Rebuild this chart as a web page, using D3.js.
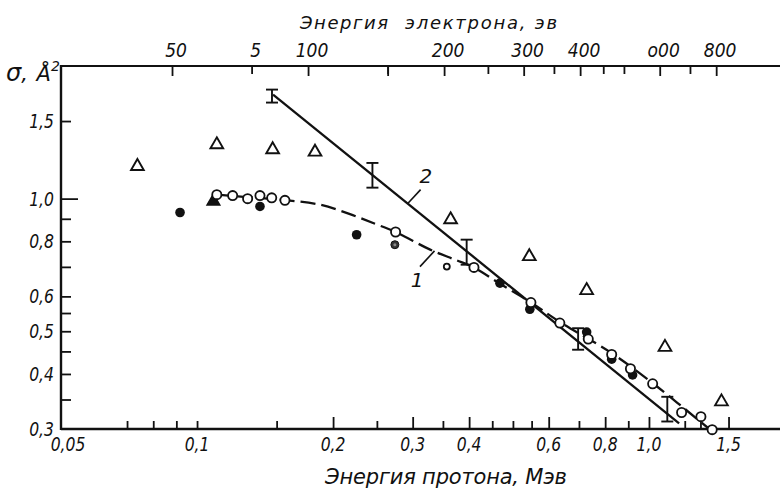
<!DOCTYPE html>
<html><head><meta charset="utf-8">
<script src="https://cdn.jsdelivr.net/npm/d3@7"></script>
<style>
body{margin:0;background:#fff;}
svg text{font-family:"DejaVu Sans","Liberation Sans",sans-serif;font-style:italic;fill:#111;}
</style></head>
<body><svg id="c" width="780" height="495"></svg>
<script>
// ---- data ----
const xDomain = [0.05, 2.0];          // proton energy, MeV
const yDomain = [0.3, 2.0];           // sigma, A^2
const eVperMeV = 568;                 // top axis alignment

const xMajorTicks = [0.05, 0.1, 0.2, 0.3, 0.4, 0.6, 0.8, 1.0, 1.5];
const xMajorLabels = ["0,05", "0,1", "0,2", "0,3", "0,4", "0,6", "0,8", "1,0", "1,5"];
const xMinorTicks = [0.07, 0.08, 0.09, 0.1, 0.15, 0.25, 0.35, 0.45, 0.5, 0.55, 0.7, 0.9, 1.2, 1.3];
const yMajorTicks = [0.3, 0.4, 0.5, 0.6, 0.8, 1.0, 1.5];
const yMajorLabels = ["0,3", "0,4", "0,5", "0,6", "0,8", "1,0", "1,5"];
const yMinorTicks = [0.35, 0.45, 0.55, 0.7, 0.9];
const topTicks = [50, 75, 100, 150, 200, 250, 300, 350, 400, 450, 500, 600, 700, 800];
const topLabelTicks = [50, 75, 100, 200, 300, 400, 600, 800];
const topLabels = ["50", "5", "100", "200", "300", "400", "о00", "800"];

const triOpenE = [0.0738, 0.1106, 0.147, 0.1824, 0.364, 0.5435, 0.728, 1.085, 1.447];
const triOpenS = [1.184, 1.326, 1.292, 1.276, 0.896, 0.739, 0.619, 0.460, 0.346];
const triFilledE = [0.1087];
const triFilledS = [0.986];
const openE = [0.1106, 0.1199, 0.1294, 0.1378, 0.1463, 0.1565, 0.275, 0.410, 0.548, 0.635, 0.734, 0.827, 0.910, 1.019, 1.181, 1.303, 1.380];
const openS = [1.021, 1.016, 1.000, 1.016, 1.004, 0.991, 0.840, 0.698, 0.581, 0.522, 0.480, 0.443, 0.411, 0.380, 0.327, 0.320, 0.299];
const filledE = [0.0917, 0.1378, 0.2255, 0.468, 0.545, 0.728, 0.827, 0.920];
const filledS = [0.930, 0.960, 0.828, 0.643, 0.561, 0.498, 0.432, 0.398];
const greyE = [0.274];
const greyS = [0.786];
const smallE = [0.357];
const smallS = [0.701];

const curve1E = [0.1106, 0.131, 0.1565, 0.187, 0.218, 0.2476, 0.275, 0.328, 0.372, 0.410, 0.468, 0.548, 0.635, 0.827, 1.02, 1.36];
const curve1S = [1.021, 1.007, 0.992, 0.969, 0.922, 0.877, 0.840, 0.766, 0.727, 0.698, 0.641, 0.581, 0.525, 0.446, 0.381, 0.300];
const line2E = [0.1473, 1.166];
const line2S = [1.723, 0.309];
const errE = [0.1465, 0.2444, 0.395, 0.697, 1.098];
const errLo = [1.652, 1.059, 0.708, 0.454, 0.312];
const errHi = [1.768, 1.205, 0.807, 0.508, 0.355];

const lab2 = {t: "2", e: 0.321, s: 1.087, lead: [[0.2933, 0.977], [0.3124, 1.048]]};
const lab1 = {t: "1", e: 0.307, s: 0.631, lead: [[0.3114, 0.701], [0.3353, 0.761]]};

// ---- drawing ----
const svg = d3.select("#c");
const x = d3.scaleLog().domain(xDomain).range([61, 785]);
const y = d3.scaleLog().domain(yDomain).range([429, 66]);
const xTop = d3.scaleLog().domain(xDomain.map(d => d * eVperMeV)).range(x.range());
const ink = "#111";

// axes frame lines
const g = svg.append("g");
g.append("line").attr("x1", x.range()[0]).attr("x2", 780).attr("y1", y.range()[0]).attr("y2", y.range()[0]).attr("stroke", ink).attr("stroke-width", 2.4);
g.append("line").attr("x1", x.range()[0]).attr("x2", 780).attr("y1", y.range()[1]).attr("y2", y.range()[1]).attr("stroke", ink).attr("stroke-width", 2.2);
g.append("line").attr("x1", x.range()[0]).attr("x2", x.range()[0]).attr("y1", y.range()[0] + 1).attr("y2", y.range()[1] - 1).attr("stroke", ink).attr("stroke-width", 2.4);

function tickAxis(axis, vals, size, tr) {
  const a = svg.append("g").attr("transform", tr)
    .call(axis.tickValues(vals).tickSize(size).tickFormat(""));
  a.select(".domain").remove();
  a.selectAll(".tick line").attr("stroke", ink).attr("stroke-width", 1.8);
  return a;
}
tickAxis(d3.axisBottom(x), xMajorTicks.filter(d => d !== 0.05 && d !== 0.1), -12, `translate(0,${y.range()[0]})`);
tickAxis(d3.axisBottom(x), xMinorTicks, -8, `translate(0,${y.range()[0]})`);
tickAxis(d3.axisLeft(y), yMajorTicks.filter(d => d !== 1.0 && d !== 0.3), -10, `translate(${x.range()[0]},0)`);
tickAxis(d3.axisLeft(y), [1.0], -17, `translate(${x.range()[0]},0)`);
tickAxis(d3.axisLeft(y), yMinorTicks, -10, `translate(${x.range()[0]},0)`);
tickAxis(d3.axisTop(xTop), topTicks.filter(d => !topLabelTicks.includes(d) || d === 75), -8, `translate(0,${y.range()[1]})`);
tickAxis(d3.axisTop(xTop), topLabelTicks.filter(d => d !== 75).concat([150]), -10, `translate(0,${y.range()[1]})`);

// tick labels (narrow, like the drafting font)
const sx = 0.78;
svg.append("g").selectAll("text").data(xMajorTicks).join("text")
  .attr("transform", (d, i) => `translate(${x(d) + (i === 0 ? 7 : 0)},451) scale(${sx},1)`)
  .attr("text-anchor", "middle").attr("font-size", 20).text((d, i) => xMajorLabels[i]);
svg.append("g").selectAll("text").data(yMajorTicks).join("text")
  .attr("transform", d => `translate(54,${y(d) + 7}) scale(${sx},1)`)
  .attr("text-anchor", "end").attr("font-size", 20).text((d, i) => yMajorLabels[i]);
svg.append("g").selectAll("text").data(topLabelTicks).join("text")
  .attr("transform", d => `translate(${xTop(d) + 4},57) scale(0.9,1)`)
  .attr("text-anchor", "middle").attr("font-size", 19).text((d, i) => topLabels[i]);

// titles
svg.append("text").attr("x", 300).attr("y", 29).attr("font-size", 18)
  .attr("textLength", 88).attr("lengthAdjust", "spacing").text("Энергия");
svg.append("text").attr("x", 405).attr("y", 29).attr("font-size", 18)
  .attr("textLength", 152).attr("lengthAdjust", "spacing").text("электрона, эв");
svg.append("text").attr("x", 325).attr("y", 484).attr("font-size", 21)
  .attr("textLength", 242).attr("lengthAdjust", "spacing").text("Энергия протона, Мэв");
const yl = svg.append("text").attr("x", 6).attr("y", 81).attr("font-size", 21);
yl.append("tspan").attr("font-size", 24).text("σ");
yl.append("tspan").text(", ");
yl.append("tspan").attr("dx", 2).text("Å");
yl.append("tspan").attr("dy", -10).attr("font-size", 14).text("2");

// curves
const ln = d3.line().x(d => x(d[0])).y(d => y(d[1]));
svg.append("path").datum(curve1E.map((e, i) => [e, curve1S[i]]))
  .attr("d", ln.curve(d3.curveCatmullRom.alpha(0.5))).attr("fill", "none")
  .attr("stroke", ink).attr("stroke-width", 2.3).attr("stroke-dasharray", "15,6");
svg.append("path").datum(line2E.map((e, i) => [e, line2S[i]]))
  .attr("d", d3.line().x(d => x(d[0])).y(d => y(d[1]))).attr("fill", "none")
  .attr("stroke", ink).attr("stroke-width", 2.3);

// error bars
const eb = svg.append("g").attr("stroke", ink).attr("stroke-width", 1.9);
errE.forEach((e, i) => {
  eb.append("line").attr("x1", x(e)).attr("x2", x(e)).attr("y1", y(errLo[i])).attr("y2", y(errHi[i]));
  [errLo[i], errHi[i]].forEach(v => eb.append("line").attr("x1", x(e) - 6).attr("x2", x(e) + 6).attr("y1", y(v)).attr("y2", y(v)));
});

// annotation labels
[lab1, lab2].forEach(L => {
  svg.append("line").attr("x1", x(L.lead[0][0])).attr("y1", y(L.lead[0][1]))
    .attr("x2", x(L.lead[1][0])).attr("y2", y(L.lead[1][1])).attr("stroke", ink).attr("stroke-width", 1.6);
  svg.append("text").attr("x", x(L.e)).attr("y", y(L.s)).attr("text-anchor", "middle").attr("font-size", 20).text(L.t);
});

// markers
const tri = d3.symbol().type(d3.symbolTriangle).size(70);
svg.append("g").selectAll("path").data(triOpenE).join("path")
  .attr("transform", (d, i) => `translate(${x(d)},${y(triOpenS[i])})`).attr("d", tri)
  .attr("fill", "#fff").attr("stroke", ink).attr("stroke-width", 1.9).attr("stroke-linejoin", "miter");
svg.append("g").selectAll("path").data(triFilledE).join("path")
  .attr("transform", (d, i) => `translate(${x(d)},${y(triFilledS[i])})`).attr("d", tri)
  .attr("fill", ink).attr("stroke", ink).attr("stroke-width", 1.5);
svg.append("g").selectAll("circle").data(filledE).join("circle")
  .attr("cx", d => x(d)).attr("cy", (d, i) => y(filledS[i])).attr("r", 4.8).attr("fill", ink);
svg.append("g").selectAll("circle").data(greyE).join("circle")
  .attr("cx", d => x(d)).attr("cy", (d, i) => y(greyS[i])).attr("r", 4).attr("fill", "#333").attr("stroke", "#111").attr("stroke-width", 1);
svg.append("g").selectAll("circle").data(greyE).join("circle")
  .attr("cx", d => x(d)).attr("cy", (d, i) => y(greyS[i])).attr("r", 1.5).attr("fill", "#888");
svg.append("g").selectAll("circle").data(openE).join("circle")
  .attr("cx", d => x(d)).attr("cy", (d, i) => y(openS[i])).attr("r", 4.6)
  .attr("fill", "#fff").attr("stroke", ink).attr("stroke-width", 1.8);
svg.append("g").selectAll("circle").data(smallE).join("circle")
  .attr("cx", d => x(d)).attr("cy", (d, i) => y(smallS[i])).attr("r", 3)
  .attr("fill", "#fff").attr("stroke", ink).attr("stroke-width", 1.8);
</script></body></html>
